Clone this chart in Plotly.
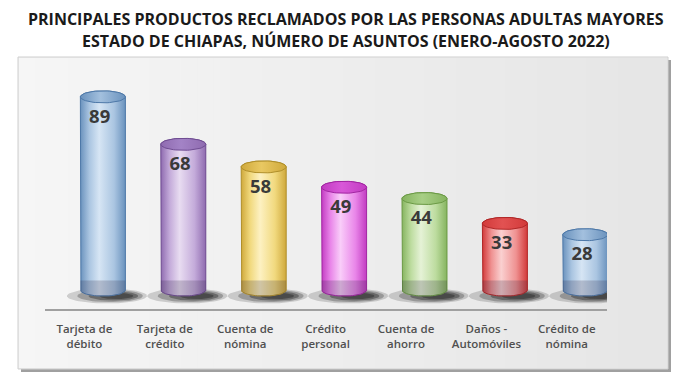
import numpy as np
import plotly.graph_objects as go

# ---------------- data ----------------
categories = ["Tarjeta de<br>débito", "Tarjeta de<br>crédito", "Cuenta de<br>nómina",
              "Crédito<br>personal", "Cuenta de<br>ahorro", "Daños -<br>Automóviles",
              "Crédito de<br>nómina"]
values = [89, 68, 58, 49, 44, 33, 28]
title_lines = ["PRINCIPALES PRODUCTOS RECLAMADOS POR LAS PERSONAS ADULTAS MAYORES",
               "ESTADO DE CHIAPAS, NÚMERO DE ASUNTOS (ENERO-AGOSTO 2022)"]

# ---------------- styles ----------------
edge_colors = ["#6a92bd", "#8f6bb0", "#cfa93c", "#c23cc2", "#86b460", "#d23a3a", "#6a92bd"]
light_colors = ["#d6e5f4", "#e8dcf1", "#fdf1c2", "#f9cdf9", "#e5f2d6", "#fad0d0", "#d6e5f4"]
mid_colors = ["#aac5e1", "#c4abda", "#f1d97e", "#e986e9", "#bddc9f", "#ef9191", "#aac5e1"]
cap_colors = ["#a3c0de", "#a383c6", "#e9c862", "#d858d8", "#a8cf86", "#e25252", "#a3c0de"]
outline_colors = ["#4d78a8", "#6f4c92", "#b08f2a", "#a226a2", "#6b9a45", "#b02727", "#4d78a8"]

OFF = 8                      # default page margin of the html body
W, H = 692 - OFF, 377 - OFF
L, R, T, B = 45 - OFF, 85, 80 - OFF, 68
plot_w = W - L - R
plot_h = H - T - B
xr = [-0.72, 6.27]
yr = [-4.87, 96.46]
px_per_x = plot_w / (xr[1] - xr[0])
px_per_y = plot_h / (yr[1] - yr[0])

hw = 22.5 / px_per_x        # cylinder half width (data units)
eh = 6.0 / px_per_y         # ellipse half height (data units)
floor = 3.5                 # visual floor of the 3D chart

fig = go.Figure()

t_full = np.linspace(0, 2 * np.pi, 60)
t_low = np.linspace(np.pi, 2 * np.pi, 30)
t_up = np.linspace(0, np.pi, 30)

# shadows
for i, v in enumerate(values):
    for scale, alpha, dx in [(1.0, 0.18, 0.05), (0.82, 0.28, 0.09), (0.62, 0.38, 0.13), (0.42, 0.42, 0.17)]:
        cx = i + dx
        sx = 40 / px_per_x * scale
        sy = 7.5 / px_per_y * scale
        fig.add_trace(go.Scatter(
            x=cx + sx * np.cos(t_full), y=0.9 + sy * np.sin(t_full),
            mode="lines", fill="toself", line=dict(width=0),
            fillcolor=f"rgba(30,30,30,{alpha})", hoverinfo="skip", showlegend=False))

# cylinders
for i, v in enumerate(values):
    xs = np.concatenate([[i - hw, i - hw], i + hw * np.cos(t_low), [i + hw, i + hw],
                         i + hw * np.cos(t_up)])
    ys = np.concatenate([[v, floor], floor + eh * np.sin(t_low), [floor, v],
                         v + eh * np.sin(t_up)])
    fig.add_trace(go.Scatter(
        x=xs, y=ys, mode="lines", fill="toself",
        line=dict(color=outline_colors[i], width=1),
        fillgradient=dict(type="horizontal",
                          colorscale=[[0, edge_colors[i]], [0.2, mid_colors[i]],
                                      [0.42, light_colors[i]], [0.75, mid_colors[i]],
                                      [1, edge_colors[i]]]),
        hoverinfo="skip", showlegend=False))
    # darker base
    xb = np.concatenate([i + hw * np.cos(t_low), [i + hw, i - hw]])
    yb = np.concatenate([floor + eh * np.sin(t_low), [floor + eh * 1.6, floor + eh * 1.6]])
    fig.add_trace(go.Scatter(
        x=xb, y=yb, mode="lines", fill="toself", line=dict(width=0),
        fillcolor="rgba(50,40,70,0.22)", hoverinfo="skip", showlegend=False))
    # top cap
    fig.add_trace(go.Scatter(
        x=i + hw * np.cos(t_full), y=v + eh * np.sin(t_full),
        mode="lines", fill="toself", line=dict(color=outline_colors[i], width=1),
        fillgradient=dict(type="horizontal",
                          colorscale=[[0, edge_colors[i]], [0.45, cap_colors[i]],
                                      [1, edge_colors[i]]]),
        hoverinfo="skip", showlegend=False))

# value labels
fig.add_trace(go.Scatter(
    x=[i - 0.04 for i in range(len(values))], y=[v - 9.3 for v in values],
    mode="text", text=[str(v) for v in values],
    textfont=dict(family="Open Sans", size=18.5, color="#3a3a3a", weight=700),
    hoverinfo="skip", showlegend=False))


def px_x(x):
    return x - 45           # window px -> pixel offset from plot left


def px_y(y):
    return 309 - y          # window px -> pixel offset from plot bottom (upwards)


shapes = [
    dict(type="rect", xref="paper", yref="paper", xsizemode="pixel", ysizemode="pixel",
         xanchor=0, yanchor=0, x0=px_x(21), x1=px_x(671), y0=px_y(372), y1=px_y(60),
         fillcolor="#a0a0a0", line=dict(width=0), layer="below"),
    dict(type="rect", xref="paper", yref="paper", xsizemode="pixel", ysizemode="pixel",
         xanchor=0, yanchor=0, x0=px_x(18), x1=px_x(668), y0=px_y(369), y1=px_y(57),
         fillcolor="#eeeeee", line=dict(color="#cfcfcf", width=1), layer="below"),
]
n = 40
c0 = np.array([246, 246, 246])
c1 = np.array([230, 230, 230])
for k in range(n):
    f = k / (n - 1)
    c = (c0 * (1 - f) + c1 * f).astype(int)
    xa = 19 + (667 - 19) * k / n
    xb_ = min(19 + (667 - 19) * (k + 1) / n + 0.6, 667)
    shapes.append(dict(type="rect", xref="paper", yref="paper", xsizemode="pixel", ysizemode="pixel",
                       xanchor=0, yanchor=0, x0=px_x(xa), x1=px_x(xb_),
                       y0=px_y(368), y1=px_y(58),
                       fillcolor=f"rgb({c[0]},{c[1]},{c[2]})", line=dict(width=0), layer="below"))

annotations = []
for line, py in zip(title_lines, [19, 41]):
    annotations.append(dict(
        text=line, xref="paper", yref="paper", x=(346 - 45) / plot_w, y=(309 - py) / plot_h,
        xanchor="center", yanchor="middle", showarrow=False,
        font=dict(family="Open Sans", size=16, color="#1a1a1a", weight=700)))

fig.update_layout(
    width=W, height=H, margin=dict(l=L, r=R, t=T, b=B),
    paper_bgcolor="white", plot_bgcolor="rgba(0,0,0,0)",
    shapes=shapes, annotations=annotations, showlegend=False,
    xaxis=dict(range=xr, tickmode="array", tickvals=[i - 0.23 for i in range(len(values))],
               ticktext=categories, showgrid=False, zeroline=False,
               showline=True, linecolor="#a0a0a0", linewidth=2, ticks="",
               ticklabelstandoff=8,
               tickfont=dict(family="Open Sans", size=11.5, color="#505050", weight=600),
               fixedrange=True),
    yaxis=dict(range=yr, visible=False, showgrid=False, zeroline=False, fixedrange=True),
)

fig.write_html("out.html")
